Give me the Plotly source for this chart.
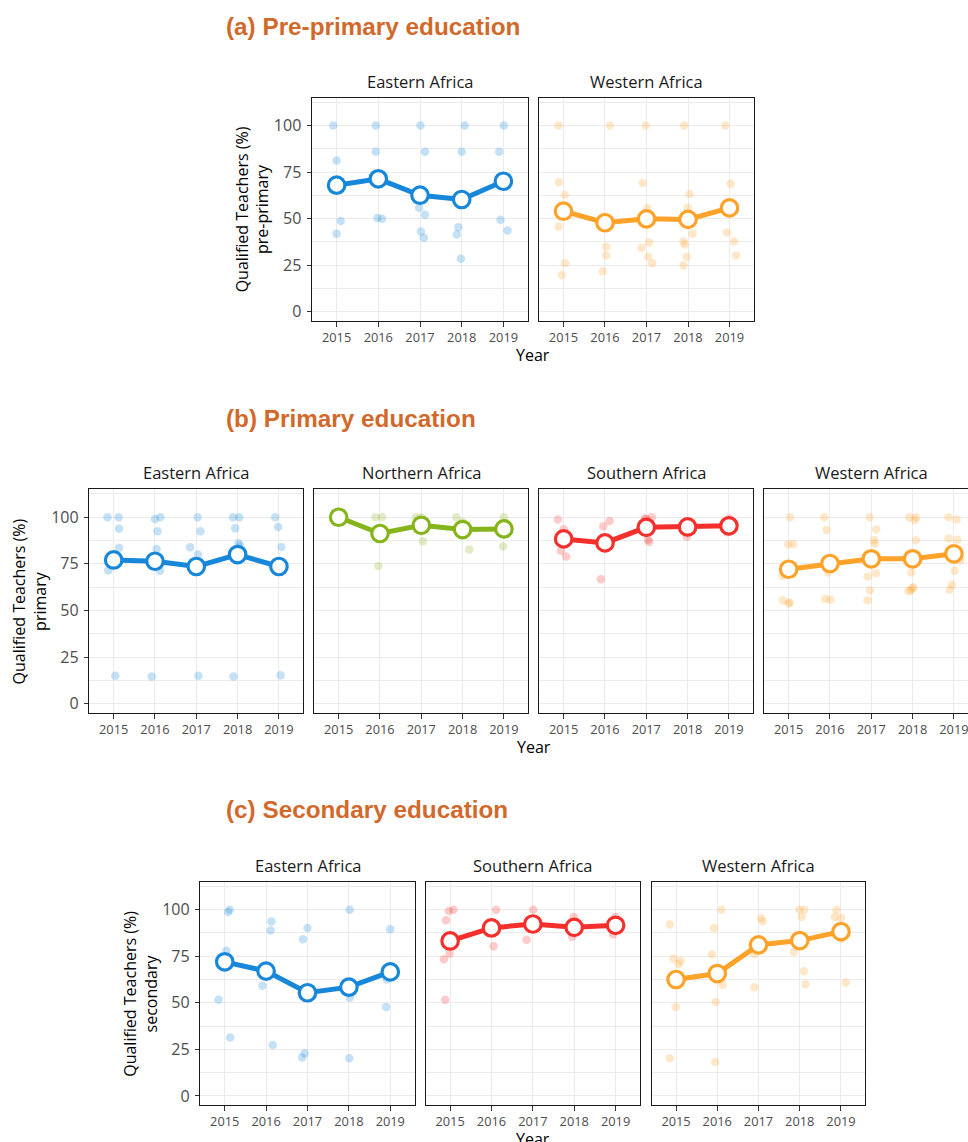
import plotly.graph_objects as go

YEARS = [2015, 2016, 2017, 2018, 2019]

# ---------------- (a) Pre-primary ----------------
pre_east_x = [2014.92, 2015.0, 2015.1, 2015.0,
              2015.94, 2015.94, 2015.98, 2016.09,
              2017.01, 2017.12, 2016.98, 2017.12, 2017.02, 2017.09,
              2018.07, 2018.0, 2017.92, 2017.88, 2017.98,
              2019.01, 2018.9, 2018.93, 2019.1]
pre_east_y = [100, 81.2, 48.8, 41.9,
              100, 86.0, 50.3, 49.9,
              100, 85.9, 55.8, 52.1, 43.1, 39.7,
              100, 86.0, 45.4, 41.5, 28.4,
              100, 86.0, 49.4, 43.6]
pre_east_mean = [68.0, 71.4, 62.6, 60.3, 70.1]

pre_west_x = [2014.88, 2014.89, 2015.03, 2014.88, 2015.04, 2014.96,
              2016.12, 2016.03, 2016.03, 2015.95, 2016.0,
              2016.98, 2016.91, 2017.02, 2017.06, 2016.88, 2017.04, 2017.14,
              2017.91, 2018.04, 2017.99, 2018.11, 2017.89, 2017.92, 2017.97, 2017.89,
              2018.9, 2019.03, 2018.94, 2019.11, 2019.16]
pre_west_y = [100, 69.6, 62.8, 45.6, 26.1, 19.7,
              100, 34.9, 30.2, 21.8, 51.0,
              100, 69.1, 55.6, 37.2, 34.3, 29.5, 26.1,
              100, 63.3, 55.8, 41.9, 37.7, 36.1, 29.5, 25.0,
              100, 68.7, 42.6, 37.7, 30.2]
pre_west_mean = [54.0, 47.8, 49.9, 49.6, 55.8]

# ---------------- (b) Primary ----------------
pri_east_x = [2014.85, 2015.12, 2015.13, 2015.13, 2014.87, 2015.04,
              2016.0, 2016.13, 2016.06, 2016.04, 2016.12, 2015.92,
              2017.03, 2017.1, 2016.85, 2017.04, 2017.05,
              2017.89, 2018.04, 2017.94, 2018.05, 2017.9, 2018.02,
              2018.91, 2018.98, 2019.06, 2019.04]
pri_east_y = [100, 100, 93.9, 83.6, 71.4, 15.0,
              99.1, 100, 92.5, 83.0, 71.3, 14.6,
              100, 92.5, 83.9, 80.0, 15.0,
              100, 100, 94.1, 84.8, 14.6, 86.0,
              100, 94.8, 84.1, 15.2]
pri_east_mean = [77.1, 76.4, 73.6, 80.0, 73.6]

pri_north_x = [2015.0,
               2015.89, 2015.96, 2016.05,
               2016.87, 2017.04, 2017.0,
               2017.85, 2018.16, 2018.0,
               2019.0, 2018.98, 2019.05]
pri_north_y = [100,
               100, 73.9, 100,
               100, 87.1, 100,
               100, 82.7, 97.5,
               100, 84.5, 96.7]
pri_north_mean = [100, 91.3, 95.7, 93.4, 93.75]

pri_south_x = [2014.86, 2015.0, 2014.93, 2015.06,
               2016.11, 2015.96, 2015.9, 2016.02,
               2017.13, 2016.97, 2017.04, 2017.07, 2017.0,
               2017.98, 2018.05, 2017.95,
               2019.0, 2018.95, 2019.05]
pri_south_y = [98.75, 93.6, 82.0, 78.9,
               98.0, 95.2, 66.8, 85.0,
               100, 99.3, 88.0, 86.8, 99.0,
               89.5, 97.5, 97.0,
               99.3, 92.0, 95.0]
pri_south_mean = [88.4, 86.25, 94.6, 94.8, 95.4]

pri_west_x = [2015.03, 2014.99, 2015.11, 2014.85, 2014.86, 2015.02, 2015.0,
              2015.86, 2015.92, 2015.95, 2015.88, 2016.01,
              2016.96, 2017.12, 2017.07, 2017.09, 2016.91, 2017.11, 2016.97, 2016.91,
              2017.92, 2018.08, 2018.05, 2018.08, 2017.97, 2018.0, 2017.9, 2017.95, 2018.02,
              2018.87, 2019.07, 2018.87, 2019.08, 2019.15, 2019.02, 2018.95, 2018.9]
pri_west_y = [100, 85.4, 85.7, 68.6, 55.5, 54.3, 53.75,
              100, 93.2, 70.4, 56.1, 55.7,
              100, 93.4, 87.7, 85.9, 68.2, 70.0, 60.9, 55.5,
              100, 100, 98.4, 87.7, 70.4, 61.8, 60.4, 60.9, 62.5,
              100, 98.75, 88.6, 88.0, 77.0, 71.25, 63.75, 61.25]
pri_west_mean = [72.1, 75.2, 77.7, 77.7, 80.4]

# ---------------- (c) Secondary ----------------
sec_east_x = [2015.12, 2015.08, 2015.04, 2014.85, 2015.13,
              2016.13, 2016.11, 2015.91, 2016.16,
              2017.0, 2016.89, 2016.93, 2016.87, 2017.02,
              2018.02, 2018.02, 2018.01, 2017.98,
              2019.0, 2018.92, 2018.9]
sec_east_y = [100, 98.75, 78.0, 51.6, 31.4,
              93.6, 88.75, 59.1, 27.3,
              90.2, 84.1, 22.9, 20.7, 58.0,
              100, 52.7, 20.2, 60.7,
              89.5, 62.5, 47.7]
sec_east_mean = [72.0, 67.0, 55.4, 58.4, 66.6]

sec_south_x = [2014.97, 2015.08, 2014.9, 2014.99, 2014.85, 2014.88,
               2016.11, 2016.05, 2016.0,
               2017.01, 2016.85, 2017.05,
               2017.99, 2017.95, 2018.03,
               2019.0, 2018.94, 2019.03]
sec_south_y = [99.3, 100, 94.3, 76.4, 73.4, 51.6,
               100, 80.4, 90.0,
               100, 83.9, 93.0,
               96.1, 85.4, 90.0,
               96.1, 86.8, 92.0]
sec_south_mean = [83.2, 90.2, 92.3, 90.5, 91.6]

sec_west_x = [2014.85, 2014.94, 2015.11, 2015.06, 2014.99, 2014.85,
              2016.1, 2015.92, 2015.87, 2016.13, 2015.96, 2015.95,
              2017.06, 2017.1, 2016.9, 2016.9,
              2017.99, 2018.11, 2018.05, 2017.86, 2018.1, 2018.14,
              2018.89, 2018.85, 2019.0, 2019.02, 2019.12]
sec_west_y = [92.0, 73.75, 72.5, 70.7, 47.7, 20.2,
              100, 90.2, 75.9, 59.6, 50.4, 18.2,
              95.4, 93.75, 76.1, 58.4,
              100, 100, 96.1, 77.3, 67.0, 60.0,
              100, 96.1, 95.7, 84.5, 60.9]
sec_west_mean = [62.5, 65.7, 81.1, 83.4, 88.2]

Y_TICKS = [0, 25, 50, 75, 100]

SECTIONS = ["(a) Pre-primary education", "(b) Primary education", "(c) Secondary education"]
LEVELS = ["pre-primary", "primary", "secondary"]

COL = {"Eastern Africa": "#1787d9", "Western Africa": "#ffa22a",
       "Northern Africa": "#86b51b", "Southern Africa": "#f42f2c"}

W, H = 968, 1142
X_RANGE = [2014.41, 2019.59]
Y_RANGE = [-5, 115]

rows = [
    dict(top=97.7, bottom=321.0, title_y=27, panels=[
        ("Eastern Africa", pre_east_x, pre_east_y, pre_east_mean, 312.0, 528.0),
        ("Western Africa", pre_west_x, pre_west_y, pre_west_mean, 539.0, 754.0)]),
    dict(top=489.3, bottom=713.0, title_y=418, panels=[
        ("Eastern Africa", pri_east_x, pri_east_y, pri_east_mean, 89.3, 303.3),
        ("Northern Africa", pri_north_x, pri_north_y, pri_north_mean, 314.3, 528.3),
        ("Southern Africa", pri_south_x, pri_south_y, pri_south_mean, 539.3, 753.3),
        ("Western Africa", pri_west_x, pri_west_y, pri_west_mean, 764.3, 978.3)]),
    dict(top=881.7, bottom=1105.3, title_y=809, panels=[
        ("Eastern Africa", sec_east_x, sec_east_y, sec_east_mean, 200.3, 414.7),
        ("Southern Africa", sec_south_x, sec_south_y, sec_south_mean, 425.7, 640.0),
        ("Western Africa", sec_west_x, sec_west_y, sec_west_mean, 651.7, 865.3)]),
]

FONT = "Open Sans"
fig = go.Figure()
layout = {}
annotations = []
idx = 0
for r, row in enumerate(rows):
    ydom = [1 - row["bottom"] / H, 1 - row["top"] / H]
    lefts = []
    for p, (region, px, py, pm, left, right) in enumerate(row["panels"]):
        idx += 1
        sfx = "" if idx == 1 else str(idx)
        xr = list(X_RANGE)
        full_right = right
        cut = right > W
        if cut:
            scale = (right - left) / (X_RANGE[1] - X_RANGE[0])
            xr[1] = X_RANGE[0] + (W - left) / scale
            right = W
        lefts.append(left)
        c = COL[region]
        fig.add_trace(go.Scatter(
            x=px, y=py, mode="markers", xaxis="x" + sfx, yaxis="y" + sfx,
            marker=dict(size=8.5, color=c, opacity=0.25, line=dict(width=0)),
            showlegend=False, hoverinfo="skip"))
        fig.add_trace(go.Scatter(
            x=YEARS, y=pm, mode="lines+markers", xaxis="x" + sfx, yaxis="y" + sfx,
            line=dict(color=c, width=5),
            marker=dict(size=16.5, color="white", line=dict(color=c, width=3.2)),
            showlegend=False))
        layout["xaxis" + sfx] = dict(
            domain=[left / W, right / W], anchor="y" + sfx, range=xr,
            tickvals=YEARS, ticktext=[str(y) for y in YEARS],
            ticklabeloverflow="allow",
            showgrid=True, gridcolor="#ebebeb", gridwidth=1.1,
            showline=True, mirror=True, linecolor="#1a1a1a", linewidth=1,
            ticks="outside", ticklen=4.5, tickcolor="#333333", tickwidth=1,
            tickfont=dict(family=FONT, size=12.8, color="#4d4d4d"),
            zeroline=False, fixedrange=True)
        first = p == 0
        layout["yaxis" + sfx] = dict(
            domain=ydom, anchor="x" + sfx, range=Y_RANGE,
            tickvals=Y_TICKS, showticklabels=first,
            ticks="outside" if first else "", ticklen=4.5, tickcolor="#333333", tickwidth=1,
            ticklabelstandoff=2,
            tickfont=dict(family=FONT, size=16, color="#4d4d4d"),
            showgrid=True, gridcolor="#ebebeb", gridwidth=1.1,
            minor=dict(dtick=12.5, tick0=0, showgrid=True, gridcolor="#ebebeb", gridwidth=0.6, ticks=""),
            showline=True, mirror=not cut, linecolor="#1a1a1a", linewidth=1,
            zeroline=False, fixedrange=True)
        annotations.append(dict(
            text=region, xref="paper", yref="paper",
            x=(left + full_right) / 2 / W,
            y=1 - (row["top"] - 16.5) / H, xanchor="center", yanchor="middle",
            showarrow=False, font=dict(family=FONT, size=16.5, color="#1a1a1a")))
    row_right = row["panels"][-1][5]
    annotations.append(dict(
        text="Year", xref="paper", yref="paper",
        x=(lefts[0] + row_right) / 2 / W, y=1 - (row["bottom"] + 34) / H,
        xanchor="center", yanchor="middle", showarrow=False,
        font=dict(family=FONT, size=16, color="#000000")))
    annotations.append(dict(
        text="Qualified Teachers (%)<br>" + LEVELS[r], xref="paper", yref="paper",
        x=(lefts[0] - 60) / W, y=1 - (row["top"] + row["bottom"]) / 2 / H,
        xanchor="center", yanchor="middle", textangle=-90, showarrow=False,
        font=dict(family=FONT, size=16, color="#000000")))
    annotations.append(dict(
        text="<b>" + SECTIONS[r] + "</b>", xref="paper", yref="paper",
        x=224 / W, y=1 - row["title_y"] / H, xanchor="left", yanchor="middle",
        showarrow=False, font=dict(family="Liberation Sans", size=24.3, color="#d2692b")))

fig.update_layout(
    width=W, height=H, margin=dict(l=0, r=0, t=0, b=0),
    paper_bgcolor="white", plot_bgcolor="white",
    annotations=annotations, **layout)

fig.write_html("out.html")
